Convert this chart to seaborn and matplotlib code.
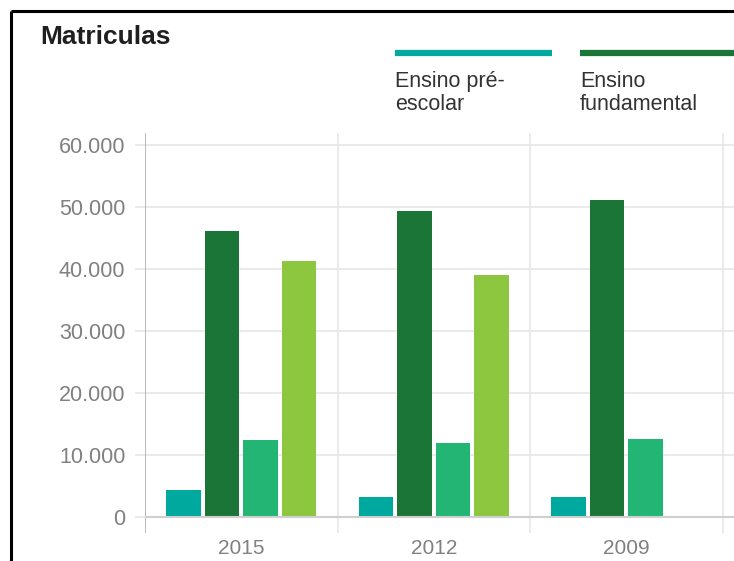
import numpy as np
import pandas as pd
import seaborn as sns
import matplotlib.pyplot as plt
from matplotlib.lines import Line2D

# ---- data ----
years = ["2015", "2012", "2009"]
series = ["Ensino pré-escolar", "Ensino fundamental", "Ensino médio", "Ensino superior"]
pre_escolar = [4400, 3200, 3200]
fundamental = [46100, 49400, 51100]
medio = [12500, 11900, 12600]
superior = [41300, 39000, np.nan]
colors = ["#00a99d", "#1b7537", "#23b573", "#8dc63f"]
legend_labels = [["Ensino pré-", "escolar"], ["Ensino", "fundamental"]]
yticks = [0, 10000, 20000, 30000, 40000, 50000, 60000]
ytick_labels = ["0", "10.000", "20.000", "30.000", "40.000", "50.000", "60.000"]

rows = []
for s, vals in zip(series, [pre_escolar, fundamental, medio, superior]):
    for y, v in zip(years, vals):
        rows.append({"ano": y, "serie": s, "valor": v})
df = pd.DataFrame(rows)

W, H = 734, 561
sns.set_theme(style="white")
plt.rcParams["font.family"] = ["Liberation Sans", "DejaVu Sans"]
fig = plt.figure(figsize=(W / 100, H / 100), dpi=100)

ax_left, ax_right = 145, 734
ax_top, ax_bottom = 133, 533
ax = fig.add_axes([ax_left / W, 1 - ax_bottom / H, (ax_right - ax_left) / W, (ax_bottom - ax_top) / H])

sns.barplot(data=df, x="ano", y="valor", hue="serie", order=years, hue_order=series,
            palette=colors, width=0.8, gap=0.1, saturation=1, edgecolor="none",
            errorbar=None, legend=False, ax=ax)

px_per_cat = 192.5
ax.set_xlim(-0.5, -0.5 + (ax_right - ax_left) / px_per_cat)
px_per_10k = 62.0
ax.set_ylim(-(ax_bottom - 517) / px_per_10k * 10000, 60000 + (145 - ax_top) / px_per_10k * 10000)

for s in ax.spines.values():
    s.set_visible(False)
ax.set_xlabel("")
ax.set_ylabel("")

# grid
for v in yticks[1:]:
    ax.axhline(v, color="#e4e4e4", lw=1.1, zorder=0)
for xb in [0.5, 1.5, 2.5]:
    ax.axvline(xb, color="#e4e4e4", lw=1.1, zorder=0)
ax.axvline(-0.5, color="#b4b4b4", lw=1.3, zorder=0.5)
ax.axhline(0, color="#cfcfcf", lw=1.5, zorder=3)

ax.set_yticks(yticks)
ax.set_yticklabels(ytick_labels)
ax.tick_params(axis="y", length=7.2, width=1.1, color="#e4e4e4", pad=7,
               labelsize=15.5, labelcolor="#808080", left=True)
ax.tick_params(axis="x", length=0, pad=4, labelsize=15, labelcolor="#808080")

# title
fig.text(40 / W, 1 - 44 / H, "Matriculas", fontsize=19, fontweight="bold",
         color="#1f1f1f", va="baseline", ha="left")

# legend (manual, only visible entries)
leg_x = [[395, 552], [580, 740]]
for (x0, x1), col, lab in zip(leg_x, colors[:2], legend_labels):
    fig.add_artist(Line2D([x0 / W, x1 / W], [1 - 53 / H, 1 - 53 / H],
                          color=col, lw=4.5, solid_capstyle="butt",
                          transform=fig.transFigure))
    fig.text(x0 / W, 1 - 87 / H, lab[0], fontsize=15.5, color="#333333",
             va="baseline", ha="left")
    fig.text(x0 / W, 1 - 110 / H, lab[1], fontsize=15.5, color="#333333",
             va="baseline", ha="left")

# screenshot frame (top and left edges)
fig.add_artist(Line2D([11 / W, 1.0], [1 - 11 / H, 1 - 11 / H], color="black", lw=2.2,
                      transform=fig.transFigure, solid_capstyle="butt"))
fig.add_artist(Line2D([11 / W, 11 / W], [1 - 11 / H, 0.0], color="black", lw=2.2,
                      transform=fig.transFigure, solid_capstyle="butt"))

fig.savefig("out.png", dpi=100)
